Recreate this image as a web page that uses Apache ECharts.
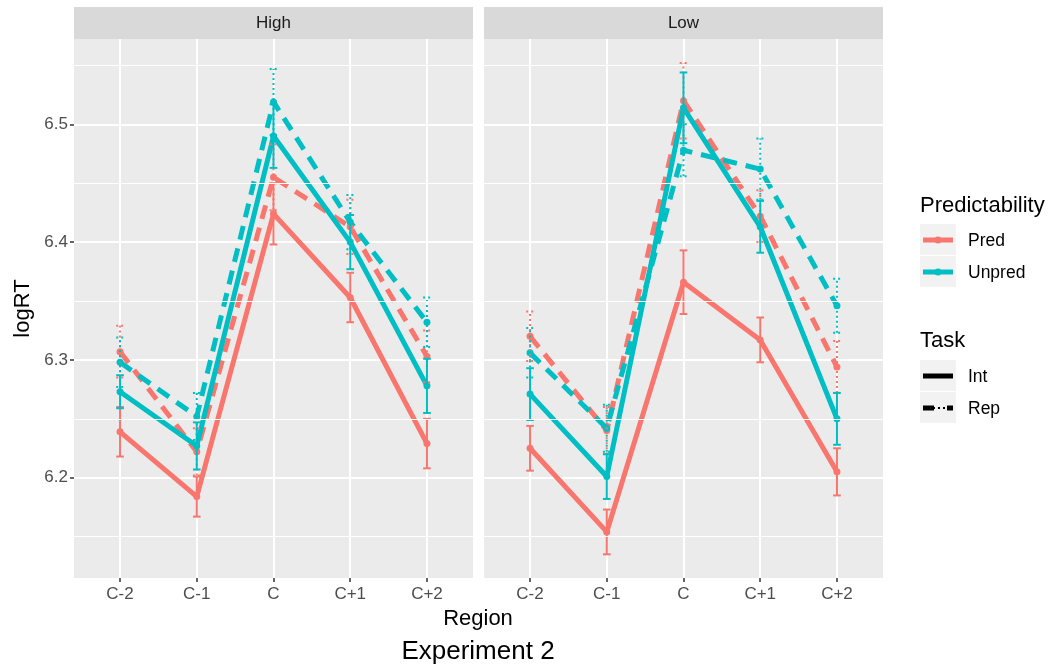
<!DOCTYPE html>
<html><head><meta charset="utf-8">
<script src="https://cdn.jsdelivr.net/npm/echarts@6/dist/echarts.min.js"></script>
<style>html,body{margin:0;padding:0;background:#fff}#c{width:1056px;height:666px}</style>
</head><body><div id="c"></div>
<script>
// ---------- data ----------
const regions = ['C-2', 'C-1', 'C', 'C+1', 'C+2'];
const panels = ['High', 'Low'];
const yTicks = [6.2, 6.3, 6.4, 6.5];
const yMinorLines = [6.15, 6.25, 6.35, 6.45, 6.55];

// High panel: means and error half-widths
const highPredInt = [6.239, 6.184, 6.424, 6.353, 6.229];
const highPredIntErr = [0.021, 0.017, 0.026, 0.021, 0.021];
const highPredRep = [6.307, 6.222, 6.455, 6.413, 6.303];
const highPredRepErr = [0.022, 0.020, 0.028, 0.023, 0.022];
const highUnpredInt = [6.273, 6.227, 6.490, 6.400, 6.278];
const highUnpredIntErr = [0.014, 0.020, 0.027, 0.023, 0.023];
const highUnpredRep = [6.298, 6.252, 6.519, 6.417, 6.332];
const highUnpredRepErr = [0.021, 0.020, 0.028, 0.023, 0.021];

// Low panel
const lowPredInt = [6.225, 6.154, 6.366, 6.317, 6.205];
const lowPredIntErr = [0.019, 0.019, 0.027, 0.019, 0.020];
const lowPredRep = [6.320, 6.240, 6.520, 6.422, 6.294];
const lowPredRepErr = [0.021, 0.020, 0.032, 0.022, 0.022];
const lowUnpredInt = [6.271, 6.201, 6.514, 6.413, 6.250];
const lowUnpredIntErr = [0.022, 0.019, 0.030, 0.022, 0.022];
const lowUnpredRep = [6.306, 6.242, 6.478, 6.462, 6.346];
const lowUnpredRepErr = [0.021, 0.020, 0.022, 0.026, 0.023];

// ---------- styling ----------
const RED = '#F8766D', TEAL = '#00BFC4';
const FONT = '"Liberation Sans", Arial, sans-serif';
const gridL = [74, 484], gridW = 399, gridT = 39, gridH = 539;

const groups = [
  { panel: 0, vals: highPredInt, err: highPredIntErr, color: RED, rep: false },
  { panel: 0, vals: highPredRep, err: highPredRepErr, color: RED, rep: true },
  { panel: 0, vals: highUnpredInt, err: highUnpredIntErr, color: TEAL, rep: false },
  { panel: 0, vals: highUnpredRep, err: highUnpredRepErr, color: TEAL, rep: true },
  { panel: 1, vals: lowPredInt, err: lowPredIntErr, color: RED, rep: false },
  { panel: 1, vals: lowPredRep, err: lowPredRepErr, color: RED, rep: true },
  { panel: 1, vals: lowUnpredInt, err: lowUnpredIntErr, color: TEAL, rep: false },
  { panel: 1, vals: lowUnpredRep, err: lowUnpredRepErr, color: TEAL, rep: true }
];

const series = [];
// minor grid lines (behind)
[0, 1].forEach(p => {
  series.push({
    type: 'line', xAxisIndex: p, yAxisIndex: p, data: [], z: 1, silent: true,
    markLine: {
      silent: true, symbol: ['none', 'none'], label: { show: false },
      lineStyle: { color: '#ffffff', width: 1, type: 'solid' },
      emphasis: { disabled: true },
      data: yMinorLines.map(v => ({ yAxis: v }))
    }
  });
});
// lines
groups.forEach(g => {
  series.push({
    type: 'line', xAxisIndex: g.panel, yAxisIndex: g.panel, z: 3,
    data: g.vals.map((v, i) => [i + 1, v]),
    symbol: 'circle', symbolSize: 7, showSymbol: true,
    itemStyle: { color: g.color },
    lineStyle: { color: g.color, width: 5, type: g.rep ? [14, 9] : 'solid', join: 'round' },
    emphasis: { disabled: true }, silent: true
  });
});
// error bars
groups.forEach(g => {
  series.push({
    type: 'custom', xAxisIndex: g.panel, yAxisIndex: g.panel, z: 4, silent: true,
    data: g.vals.map((v, i) => [i + 1, v - g.err[i], v + g.err[i]]),
    encode: { x: 0, y: [1, 2] },
    renderItem: (params, api) => {
      const x = api.value(0);
      const p1 = api.coord([x, api.value(1)]);
      const p2 = api.coord([x, api.value(2)]);
      const hw = api.size([0.1, 0])[0] / 2;
      const st = { stroke: g.color, lineWidth: 2, fill: null, lineDash: g.rep ? [2, 3] : null };
      return {
        type: 'group', children: [
          { type: 'line', shape: { x1: p1[0], y1: p1[1], x2: p2[0], y2: p2[1] }, style: st },
          { type: 'line', shape: { x1: p1[0] - hw, y1: p1[1], x2: p1[0] + hw, y2: p1[1] }, style: st },
          { type: 'line', shape: { x1: p2[0] - hw, y1: p2[1], x2: p2[0] + hw, y2: p2[1] }, style: st }
        ]
      };
    }
  });
});

const xAxes = [0, 1].map(p => ({
  type: 'value', gridIndex: p, min: 0.4, max: 5.6,
  axisLine: { show: false },
  axisTick: { show: true, length: 4, lineStyle: { color: '#333333', width: 1.5 }, customValues: [1, 2, 3, 4, 5] },
  axisLabel: { customValues: [1, 2, 3, 4, 5], formatter: v => regions[Math.round(v) - 1] || '',
    color: '#4d4d4d', fontSize: 17, fontFamily: FONT, margin: 8 },
  splitLine: { show: true, lineStyle: { color: '#ffffff', width: 2 } }
}));
const yAxes = [0, 1].map(p => ({
  type: 'value', gridIndex: p, min: 6.1149, max: 6.5724,
  axisLine: { show: false },
  axisTick: { show: p === 0, length: 4, lineStyle: { color: '#333333', width: 1.5 }, customValues: yTicks },
  axisLabel: { show: p === 0, customValues: yTicks, formatter: v => v.toFixed(1),
    color: '#4d4d4d', fontSize: 17, fontFamily: FONT, margin: 6 },
  splitLine: { show: true, lineStyle: { color: '#ffffff', width: 2 } },
  name: p === 0 ? 'logRT' : '', nameLocation: 'middle', nameGap: 40, nameRotate: 90,
  nameTextStyle: { color: '#000', fontSize: 22, fontFamily: FONT }
}));

// strips + legend (graphic)
const graphic = [];
panels.forEach((name, p) => {
  graphic.push({ type: 'rect', left: gridL[p], top: 7, shape: { width: gridW, height: 32 }, style: { fill: '#d9d9d9' }, silent: true });
  graphic.push({ type: 'text', x: gridL[p] + gridW / 2, y: 23,
    style: { text: name, fill: '#1a1a1a', fontSize: 17, fontFamily: FONT, align: 'center', verticalAlign: 'middle' } });
});
function legendTitle(txt, y) {
  graphic.push({ type: 'text', x: 920, y: y, style: { text: txt, fill: '#000', fontSize: 22, fontFamily: FONT, align: 'left', verticalAlign: 'middle' } });
}
function legendKey(y, label, color, kind) {
  graphic.push({ type: 'rect', shape: { x: 920, y: y - 16, width: 36, height: 31 }, style: { fill: '#f2f2f2' }, silent: true });
  if (kind === 'rep') {
    graphic.push({ type: 'line', shape: { x1: 923, y1: y, x2: 953, y2: y }, style: { stroke: color, lineWidth: 5, lineDash: [11, 13] } });
    graphic.push({ type: 'line', shape: { x1: 923, y1: y, x2: 953, y2: y }, style: { stroke: color, lineWidth: 2, lineDash: [2, 3] } });
  } else {
    graphic.push({ type: 'line', shape: { x1: 923, y1: y, x2: 953, y2: y }, style: { stroke: color, lineWidth: 5 } });
    if (kind === 'pt') graphic.push({ type: 'circle', shape: { cx: 938, cy: y, r: 3.5 }, style: { fill: color } });
  }
  graphic.push({ type: 'text', x: 968, y: y + 1, style: { text: label, fill: '#000', fontSize: 17.5, fontFamily: FONT, align: 'left', verticalAlign: 'middle' } });
}
legendTitle('Predictability', 206);
legendKey(240, 'Pred', RED, 'pt');
legendKey(272, 'Unpred', TEAL, 'pt');
legendTitle('Task', 341);
legendKey(376, 'Int', '#000', 'int');
legendKey(408, 'Rep', '#000', 'rep');

const option = {
  animation: false,
  backgroundColor: '#ffffff',
  title: [
    { text: 'Region', left: 478, top: 608, textAlign: 'center',
      textStyle: { color: '#000', fontSize: 22, fontWeight: 'normal', fontFamily: FONT }, padding: 0 },
    { text: 'Experiment 2', left: 478, top: 639, textAlign: 'center',
      textStyle: { color: '#000', fontSize: 26, fontWeight: 'normal', fontFamily: FONT }, padding: 0 }
  ],
  grid: [0, 1].map(p => ({ left: gridL[p], top: gridT, width: gridW, height: gridH, show: true,
    backgroundColor: '#ebebeb', borderWidth: 0, containLabel: false })),
  xAxis: xAxes,
  yAxis: yAxes,
  series: series,
  graphic: graphic
};
const chart = echarts.init(document.getElementById('c'), null, { renderer: 'canvas' });
chart.setOption(option);
</script>
</body></html>
